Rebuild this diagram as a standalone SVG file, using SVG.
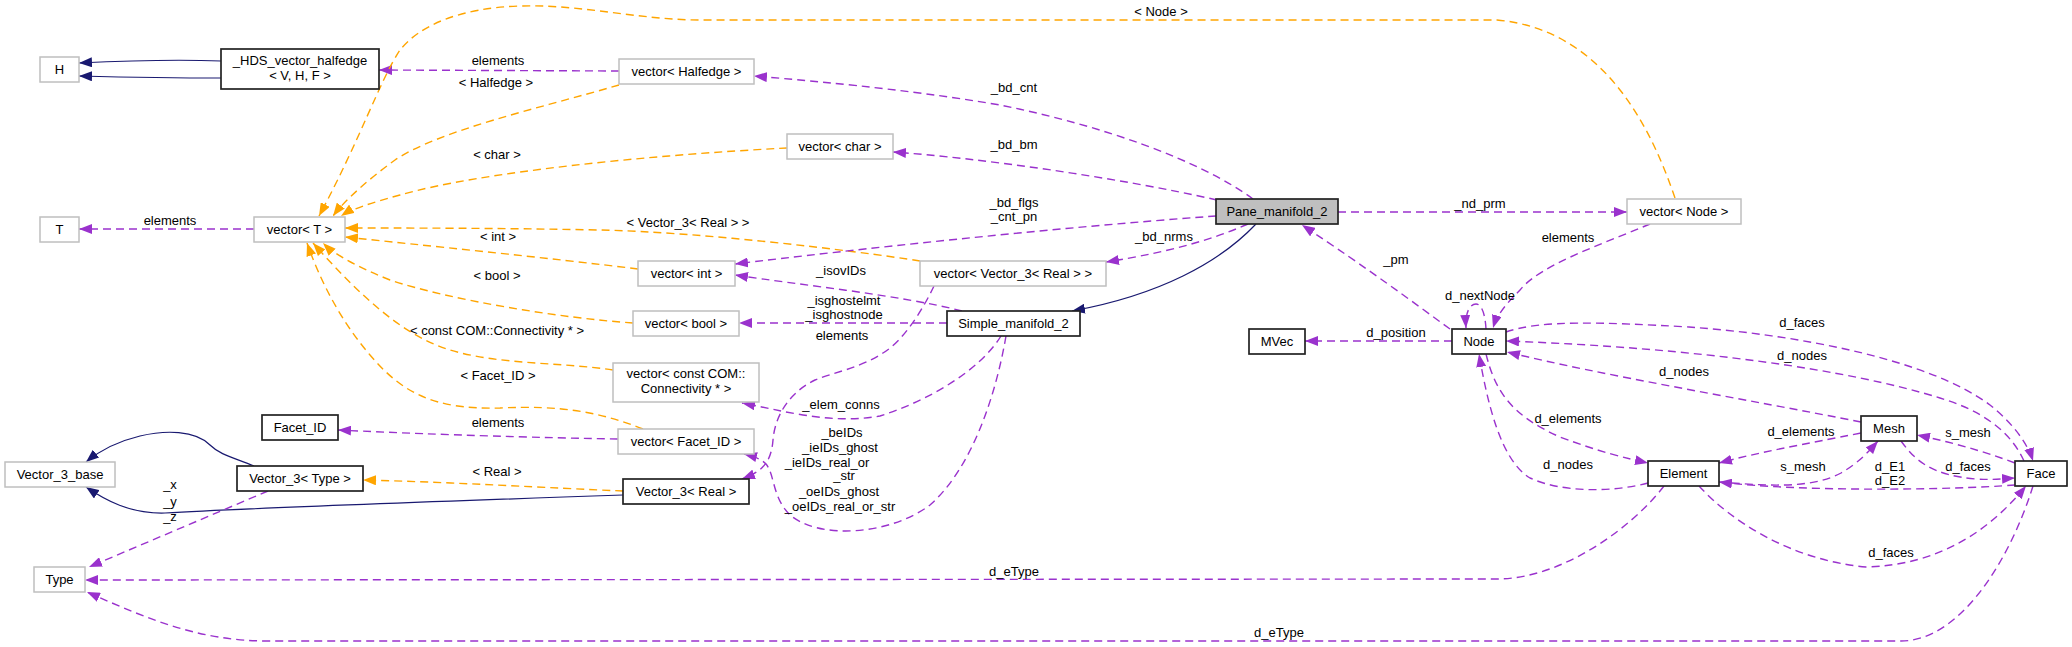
<svg xmlns="http://www.w3.org/2000/svg" width="2072" height="647" viewBox="0 0 2072 647">
<style>
text{font-family:"Liberation Sans",Arial,sans-serif;font-size:13px;fill:#000;text-anchor:middle}
.g{fill:#fff;stroke:#bfbfbf;stroke-width:1.5}
.b{fill:#fff;stroke:#222;stroke-width:1.7}
.sel{fill:#bfbfbf;stroke:#222;stroke-width:1.7}
.p{fill:none;stroke:#9a32cd;stroke-width:1.4;stroke-dasharray:8,5;marker-end:url(#ap)}
.o{fill:none;stroke:#ffa500;stroke-width:1.4;stroke-dasharray:8,5;marker-end:url(#ao)}
.n{fill:none;stroke:#191970;stroke-width:1.2;marker-end:url(#an)}
</style>
<defs>
<marker id="ap" viewBox="0 0 13 10" refX="13" refY="5" markerWidth="13" markerHeight="10" markerUnits="userSpaceOnUse" orient="auto"><path d="M0,0L13,5L0,10z" fill="#9a32cd"/></marker>
<marker id="ao" viewBox="0 0 13 10" refX="13" refY="5" markerWidth="13" markerHeight="10" markerUnits="userSpaceOnUse" orient="auto"><path d="M0,0L13,5L0,10z" fill="#ffa500"/></marker>
<marker id="an" viewBox="0 0 13 10" refX="13" refY="5" markerWidth="13" markerHeight="10" markerUnits="userSpaceOnUse" orient="auto"><path d="M0,0L13,5L0,10z" fill="#191970"/></marker>
</defs>
<rect width="2072" height="647" fill="#fff"/>
<g id="connectors">
<path class="n" d="M221,61 C170,59 120,61 79,63"/>
<path class="n" d="M221,78 C170,78 120,77 79,76"/>
<path class="p" d="M619,71 L379,70"/>
<text x="498" y="65">elements</text>
<path class="p" d="M254,229 L79,229"/>
<text x="170" y="225">elements</text>
<path class="o" d="M619,85 C540,108 440,130 395,160 C370,178 345,200 333,216"/>
<text x="496" y="87">&lt; Halfedge &gt;</text>
<path class="o" d="M787,148 C650,155 480,172 400,195 C370,203 350,210 341,216"/>
<text x="497" y="159">&lt; char &gt;</text>
<path class="o" d="M1675,198 C1655,140 1610,30 1497,20 L700,20 C640,20 580,4 520,6 C460,8 420,25 400,50 C380,80 360,140 319,216"/>
<text x="1161" y="16">&lt; Node &gt;</text>
<path class="o" d="M920,261 C850,250 700,232 600,230 C500,228 400,228 345,228"/>
<text x="688" y="227">&lt; Vector_3&lt; Real &gt; &gt;</text>
<path class="o" d="M638,269 C550,258 420,245 345,237"/>
<text x="498" y="241">&lt; int &gt;</text>
<path class="o" d="M633,323 C560,318 450,300 390,280 C360,268 335,255 323,243"/>
<text x="497" y="280">&lt; bool &gt;</text>
<path class="o" d="M613,370 C560,362 500,365 450,350 C400,335 355,290 313,243"/>
<text x="497" y="335">&lt; const COM::Connectivity * &gt;</text>
<path class="o" d="M643,429 C600,412 560,405 500,408 C430,410 400,390 370,355 C340,320 320,280 307,243"/>
<text x="498" y="380">&lt; Facet_ID &gt;</text>
<path class="o" d="M623,491 C550,488 450,482 363,480"/>
<text x="497" y="476">&lt; Real &gt;</text>
<path class="n" d="M254,466 C235,458 220,455 210,445 C195,430 165,430 140,436 C115,442 98,452 86,462"/>
<path class="n" d="M623,495 C450,501 250,508 165,513 C130,514 105,500 86,487"/>
<path class="p" d="M268,491 L89,567"/>
<text x="170" y="489">_x</text>
<text x="170" y="506">_y</text>
<text x="170" y="521">_z</text>
<path class="p" d="M618,439 C500,437 400,433 338,430"/>
<text x="498" y="427">elements</text>
<path class="p" d="M1253,199 C1200,160 1100,125 1000,105 C900,88 800,80 754,76"/>
<text x="1014" y="92">_bd_cnt</text>
<path class="p" d="M1217,200 C1120,178 980,158 893,152"/>
<text x="1014" y="149">_bd_bm</text>
<path class="p" d="M1216,216 C1050,228 850,250 735,264"/>
<text x="1014" y="207">_bd_flgs</text>
<text x="1014" y="221">_cnt_pn</text>
<path class="p" d="M1248,224 C1200,245 1150,255 1106,262"/>
<text x="1164" y="241">_bd_nrms</text>
<path class="n" d="M1256,224 C1220,262 1160,295 1072,311"/>
<path class="p" d="M1338,212 L1627,212"/>
<text x="1480" y="208">_nd_prm</text>
<path class="p" d="M1450,329 C1410,300 1370,270 1302,225"/>
<text x="1396" y="264">_pm</text>
<path class="p" d="M1650,224 C1600,245 1540,265 1520,290 C1505,305 1497,315 1493,328"/>
<text x="1568" y="242">elements</text>
<path class="p" d="M1486,329 C1485,312 1481,304 1476,304 C1470,304 1465,312 1466,328"/>
<text x="1480" y="300">d_nextNode</text>
<path class="p" d="M1452,341 L1305,341"/>
<text x="1396" y="337">d_position</text>
<path class="p" d="M1506,332 C1540,320 1600,322 1689,327 C1800,335 1930,360 1990,405 C2015,425 2028,445 2033,461"/>
<text x="1802" y="327">d_faces</text>
<path class="p" d="M2024,461 C2010,430 1980,410 1940,398 C1850,370 1700,348 1506,341"/>
<text x="1802" y="360">d_nodes</text>
<path class="p" d="M1861,422 C1750,400 1600,375 1507,352"/>
<text x="1684" y="376">d_nodes</text>
<path class="p" d="M1486,354 C1495,390 1510,415 1560,437 C1600,452 1625,458 1648,463"/>
<text x="1568" y="423">d_elements</text>
<path class="p" d="M1648,483 C1610,493 1560,492 1530,478 C1500,460 1487,400 1479,354"/>
<text x="1568" y="469">d_nodes</text>
<path class="p" d="M1861,433 C1800,445 1760,452 1719,463"/>
<text x="1801" y="436">d_elements</text>
<path class="p" d="M1719,482 C1760,485 1810,490 1841,473 C1860,462 1870,450 1878,441"/>
<text x="1803" y="471">s_mesh</text>
<path class="p" d="M2015,463 C1980,450 1950,442 1917,435"/>
<text x="1968" y="437">s_mesh</text>
<path class="p" d="M1901,441 C1915,460 1930,475 1976,479 C1990,480 2000,479 2015,478"/>
<text x="1968" y="471">d_faces</text>
<path class="p" d="M2015,485 C1950,490 1800,492 1719,482"/>
<text x="1890" y="471">d_E1</text>
<text x="1890" y="485">d_E2</text>
<path class="p" d="M1699,486 C1730,520 1790,560 1866,567 C1940,565 1990,530 2026,486"/>
<text x="1891" y="557">d_faces</text>
<path class="p" d="M1664,486 C1630,530 1560,579 1497,579 L85,580"/>
<text x="1014" y="576">d_eType</text>
<path class="p" d="M2033,486 C2010,560 1960,641 1901,641 L268,641 C200,641 150,620 87,592"/>
<text x="1279" y="637">d_eType</text>
<path class="p" d="M962,311 C900,295 800,285 735,275"/>
<text x="841" y="275">_isovIDs</text>
<path class="p" d="M947,323 L739,323"/>
<text x="844" y="305">_isghostelmt</text>
<text x="844" y="319">_isghostnode</text>
<path class="p" d="M934,286 C925,305 905,340 883,353 C860,368 835,372 815,380 C790,392 775,415 773,440 C771,465 760,472 742,479"/>
<text x="842" y="340">elements</text>
<path class="p" d="M1001,336 C980,370 930,400 880,416 C830,425 780,410 742,403"/>
<text x="841" y="409">_elem_conns</text>
<path class="p" d="M1006,336 C995,400 970,470 930,505 C890,535 820,540 790,515 C772,497 775,475 766,464 C760,458 752,456 744,454"/>
<text x="842" y="437">_beIDs</text>
<text x="840" y="452">_ieIDs_ghost</text>
<text x="827" y="467">_ieIDs_real_or</text>
<text x="844" y="480">_str</text>
<text x="839" y="496">_oeIDs_ghost</text>
<text x="840" y="511">_oeIDs_real_or_str</text>
</g>
<g id="node-H"><rect class="g" x="40" y="57" width="39" height="25"/><text x="59.5" y="74">H</text></g>
<g id="node-HDS"><rect class="b" x="221" y="49" width="158" height="40"/><text x="300" y="65">_HDS_vector_halfedge</text><text x="300" y="80">&lt; V, H, F &gt;</text></g>
<g id="node-T"><rect class="g" x="40" y="217" width="39" height="25"/><text x="59.5" y="234">T</text></g>
<g id="node-vectorT"><rect class="g" x="254" y="217" width="91" height="25"/><text x="299.5" y="234">vector&lt; T &gt;</text></g>
<g id="node-vectorHalfedge"><rect class="g" x="619" y="59" width="135" height="25"/><text x="686.5" y="76">vector&lt; Halfedge &gt;</text></g>
<g id="node-vectorChar"><rect class="g" x="787" y="134" width="106" height="25"/><text x="840" y="151">vector&lt; char &gt;</text></g>
<g id="node-Pane"><rect class="sel" x="1216" y="199" width="122" height="25"/><text x="1277" y="216">Pane_manifold_2</text></g>
<g id="node-vectorNode"><rect class="g" x="1627" y="199" width="114" height="25"/><text x="1684" y="216">vector&lt; Node &gt;</text></g>
<g id="node-vectorInt"><rect class="g" x="638" y="261" width="97" height="25"/><text x="686.5" y="278">vector&lt; int &gt;</text></g>
<g id="node-vectorV3R"><rect class="g" x="920" y="261" width="186" height="25"/><text x="1013" y="278">vector&lt; Vector_3&lt; Real &gt; &gt;</text></g>
<g id="node-vectorBool"><rect class="g" x="633" y="311" width="106" height="25"/><text x="686" y="328">vector&lt; bool &gt;</text></g>
<g id="node-Simple"><rect class="b" x="947" y="311" width="133" height="25"/><text x="1013.5" y="328">Simple_manifold_2</text></g>
<g id="node-vectorCOM"><rect class="g" x="613" y="363" width="146" height="39"/><text x="686" y="378">vector&lt; const COM::</text><text x="686" y="393">Connectivity * &gt;</text></g>
<g id="node-FacetID"><rect class="b" x="262" y="415" width="76" height="25"/><text x="300" y="432">Facet_ID</text></g>
<g id="node-vectorFacetID"><rect class="g" x="618" y="429" width="136" height="25"/><text x="686" y="446">vector&lt; Facet_ID &gt;</text></g>
<g id="node-Vector3base"><rect class="g" x="5" y="462" width="110" height="25"/><text x="60" y="479">Vector_3_base</text></g>
<g id="node-Vector3Type"><rect class="b" x="237" y="466" width="126" height="25"/><text x="300" y="483">Vector_3&lt; Type &gt;</text></g>
<g id="node-Vector3Real"><rect class="b" x="623" y="479" width="126" height="25"/><text x="686" y="496">Vector_3&lt; Real &gt;</text></g>
<g id="node-Type"><rect class="g" x="34" y="567" width="51" height="25"/><text x="59.5" y="584">Type</text></g>
<g id="node-MVec"><rect class="b" x="1249" y="329" width="56" height="25"/><text x="1277" y="346">MVec</text></g>
<g id="node-Node"><rect class="b" x="1452" y="329" width="54" height="25"/><text x="1479" y="346">Node</text></g>
<g id="node-Mesh"><rect class="b" x="1861" y="416" width="56" height="25"/><text x="1889" y="433">Mesh</text></g>
<g id="node-Element"><rect class="b" x="1648" y="461" width="71" height="25"/><text x="1683.5" y="478">Element</text></g>
<g id="node-Face"><rect class="b" x="2015" y="461" width="52" height="25"/><text x="2041" y="478">Face</text></g>
</svg>
